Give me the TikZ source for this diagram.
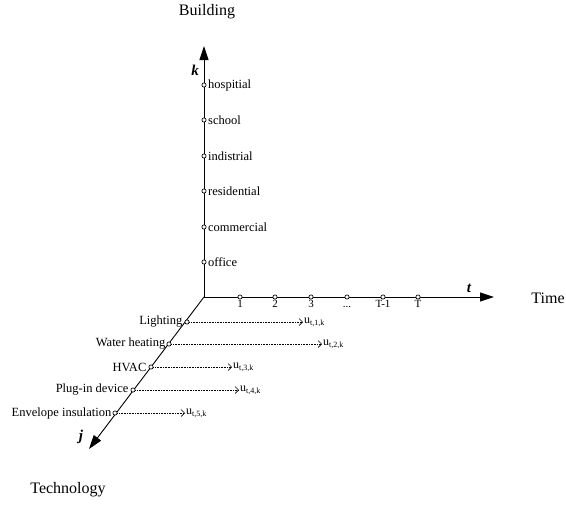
\documentclass[tikz,border=0pt]{standalone}
\usepackage{fontspec}
\setmainfont{Liberation Serif}
\usetikzlibrary{arrows.meta}

\tikzset{
  axis/.style={line width=0.9pt, -{Triangle[length=14pt,width=9pt]}},
  tick/.style={circle, draw, fill=white, line width=0.7pt, inner sep=0pt, minimum size=4.2pt},
  flow/.style={densely dotted, line width=0.6pt, -{Straight Barb[length=3.5pt,width=7pt]}},
  axlabel/.style={font=\fontsize{16}{18}\selectfont},
  axname/.style={font=\fontsize{15}{17}\selectfont\bfseries\itshape},
  ulabel/.style={anchor=west, inner sep=1pt, font=\fontsize{12}{14}\selectfont}
}
\newcommand{\uval}[1]{u\textsubscript{\fontsize{8}{9}\selectfont t,#1,k}}

\begin{document}
\begin{tikzpicture}[x=1pt, y=-1pt, font=\fontsize{12.5}{14}\selectfont]
    \useasboundingbox (0,0) rectangle (566,507);
    % axes
    \coordinate (O) at (204,297);
    \coordinate (ktip) at (204,46);
    \coordinate (ttip) at (494,297);
    \coordinate (jtip) at (89,449);
    \draw[axis] (O) -- (ktip);
    \draw[axis] (O) -- (ttip);
    \draw[axis] (O) -- (jtip);
    \node[axname] (kname) at (195,70) {k};
    \node[axname] (tname) at (469,288) {t};
    \node[axname] (jname) at (81,437) {j};
    \node[axlabel] (building) at (207,12) {Building};
    \node[axlabel] (time) at (548,298) {Time};
    \node[axlabel] (technology) at (68,490) {Technology};
    % building types
    \foreach \i/\y/\name in {1/262/office, 2/227/commercial, 3/191/residential,
                             4/156/indistrial, 5/120/school, 6/85/hospitial}
        \node[tick, label={[inner sep=1.5pt]right:\name}] (k\i) at (204,\y) {};
    % time steps
    \foreach \i/\x/\name in {1/240/1, 2/275/2, 3/311/3, 4/347/{...}, 5/383/T-1, 6/418/T}
        \node[tick, label={[inner sep=1pt, font=\fontsize{11}{12}\selectfont]below:\vphantom{T}\name}] (t\i) at (\x,297) {};
    % technologies
    \node[tick, label={[inner sep=2pt]left:Lighting}] (j1) at (187,322) {};
    \node[tick, label={[inner sep=1pt]left:Water heating}] (j2) at (169,344) {};
    \node[tick, label={[inner sep=2pt]left:HVAC}] (j3) at (151,367) {};
    \node[tick, label={[inner sep=2pt]left:Plug-in device}] (j4) at (133,390) {};
    \node[tick, label={[inner sep=1pt]left:Envelope insulation}] (j5) at (115,413) {};
    \coordinate (u1) at (303,322);
    \coordinate (u2) at (322,344);
    \coordinate (u3) at (232,367);
    \coordinate (u4) at (239,390);
    \coordinate (u5) at (185,413);
    \foreach \i in {1,...,5} {
        \draw[flow] (j\i) -- (u\i);
        \node[ulabel] (ul\i) at (u\i) {\uval{\i}};
    }
\end{tikzpicture}
\end{document}
